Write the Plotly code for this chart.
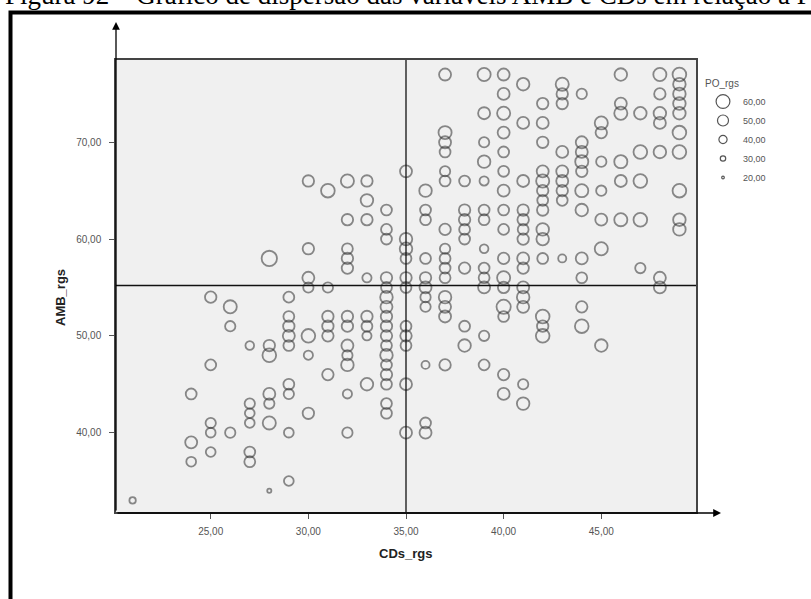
import plotly.graph_objects as go

# ---- data (CDs_rgs column -> AMB_rgs values, PO_rgs values)
cds_cols = [21, 24, 25, 26, 27, 28, 29, 30, 31, 32, 33, 34, 35, 36, 37, 38, 39,
            40, 41, 42, 43, 44, 45, 46, 47, 48, 49]
amb_cols = [
    [33],
    [44, 39, 37],
    [54, 47, 41, 40, 38],
    [53, 51, 40],
    [49, 43, 42, 41, 38, 37],
    [58, 49, 48, 44, 43, 41, 34],
    [54, 52, 51, 50, 49, 45, 44, 40, 35],
    [66, 59, 56, 55, 50, 48, 42],
    [65, 55, 52, 51, 50, 46],
    [66, 62, 59, 58, 57, 52, 51, 49, 48, 47, 44, 40],
    [66, 64, 62, 56, 52, 51, 50, 45],
    [63, 61, 60, 56, 55, 54, 53, 52, 51, 50, 49, 48, 47, 46, 45, 43, 42],
    [67, 60, 59, 58, 56, 55, 51, 50, 49, 45, 40],
    [65, 63, 62, 58, 56, 55, 54, 53, 47, 41, 40],
    [77, 71, 70, 69, 67, 66, 61, 59, 58, 57, 56, 54, 53, 52, 47],
    [66, 63, 62, 61, 60, 57, 51, 49],
    [77, 73, 70, 68, 66, 63, 62, 59, 57, 56, 55, 50, 47],
    [77, 75, 73, 71, 69, 67, 65, 63, 61, 58, 56, 55, 53, 52, 46, 44],
    [76, 72, 66, 63, 62, 61, 60, 58, 57, 55, 54, 53, 45, 43],
    [74, 72, 70, 67, 66, 65, 64, 63, 61, 60, 58, 52, 51, 50],
    [76, 75, 74, 69, 67, 66, 65, 64, 58],
    [75, 70, 69, 68, 67, 65, 63, 58, 56, 53, 51],
    [72, 71, 68, 65, 62, 59, 49],
    [77, 74, 73, 68, 66, 62],
    [73, 69, 66, 62, 57],
    [77, 75, 73, 72, 69, 56, 55],
    [77, 76, 75, 74, 73, 71, 69, 65, 62, 61],
]
po_cols = [
    [30],
    [46, 50, 42],
    [48, 46, 44, 42, 42],
    [54, 44, 44],
    [38, 44, 42, 42, 46, 46],
    [62, 48, 56, 50, 44, 54, 22],
    [46, 46, 48, 50, 46, 46, 44, 42, 42],
    [48, 48, 50, 44, 56, 40, 48],
    [56, 44, 48, 48, 48, 48],
    [54, 48, 46, 48, 48, 48, 48, 50, 44, 52, 40, 44],
    [48, 52, 48, 40, 48, 46, 40, 52],
    [46, 46, 46, 48, 46, 52, 50, 48, 48, 48, 46, 52, 46, 48, 46, 46, 46],
    [50, 52, 52, 46, 48, 46, 46, 48, 46, 50, 50],
    [52, 46, 46, 46, 48, 50, 44, 44, 36, 46, 50],
    [50, 54, 50, 46, 44, 46, 48, 44, 46, 46, 46, 52, 50, 50, 48],
    [46, 48, 48, 46, 46, 48, 46, 52],
    [54, 50, 44, 52, 40, 46, 46, 38, 46, 46, 50, 44, 46],
    [50, 50, 54, 50, 46, 46, 50, 46, 46, 48, 54, 48, 58, 46, 48, 50],
    [52, 50, 50, 48, 48, 46, 48, 50, 48, 50, 52, 50, 44, 52],
    [48, 50, 48, 50, 54, 48, 46, 48, 52, 52, 46, 56, 48, 56],
    [54, 48, 48, 50, 50, 50, 48, 46, 36],
    [44, 50, 50, 54, 48, 54, 52, 50, 46, 48, 56],
    [54, 48, 44, 44, 50, 54, 52],
    [52, 50, 54, 54, 50, 54],
    [52, 56, 56, 56, 44],
    [54, 48, 52, 50, 52, 50, 50],
    [56, 52, 52, 52, 52, 56, 56, 56, 52, 52],
]
legend_values = [60, 50, 40, 30, 20]
x_ticks = [25, 30, 35, 40, 45]
y_ticks = [40, 50, 60, 70]
x_ref = 35
y_ref = 55.2

title_text = "Figura 92 – Gráfico de dispersão das variáveis AMB e CDs em relação à PO"

cds_rgs, amb_rgs, po_rgs = [], [], []
for cx, ys, ps in zip(cds_cols, amb_cols, po_cols):
    for yv, pv in zip(ys, ps):
        cds_rgs.append(cx)
        amb_rgs.append(yv)
        po_rgs.append(pv)


def diam(p):
    return max(3.0, 0.28 * p - 2)


mcolor = "rgba(45,45,45,0.78)"

fig = go.Figure()
fig.add_trace(go.Scatter(
    x=cds_rgs, y=amb_rgs, mode="markers", showlegend=False,
    marker=dict(symbol="circle-open", size=[diam(p) for p in po_rgs],
                color=mcolor, line=dict(width=1.8)),
    cliponaxis=False,
))
for v in legend_values:
    fig.add_trace(go.Scatter(
        x=[None], y=[None], mode="markers", name=f"{v},00",
        marker=dict(symbol="circle-open", size=diam(v) - 1, color="#555",
                    line=dict(width=1.2)),
    ))

L, R, T, B = 116, 115, 60, 87
W, H = 811, 599
pw, ph = W - L - R, H - T - B


def px_x(px):
    return (px - L) / pw


def px_y(py):
    return (H - B - py) / ph


shapes = [
    # reference lines
    dict(type="line", xref="paper", yref="y", x0=0, x1=1, y0=y_ref, y1=y_ref,
         line=dict(color="#111", width=1.3)),
    dict(type="line", xref="x", yref="paper", x0=x_ref, x1=x_ref, y0=0, y1=1,
         line=dict(color="#111", width=1.3)),
    # outer frame
    dict(type="rect", xref="paper", yref="paper",
         x0=px_x(10.5), x1=px_x(830), y0=px_y(12.5), y1=px_y(620),
         line=dict(color="black", width=4), layer="below"),
]

annotations = [
    dict(text=title_text, xref="paper", yref="paper", x=px_x(3), y=px_y(-5),
         xanchor="left", yanchor="middle", showarrow=False,
         font=dict(family="Liberation Serif", size=27, color="black")),
    # y-axis arrow
    dict(text="", xref="paper", yref="paper", x=px_x(116), y=px_y(22),
         ax=0, ay=490, axref="pixel", ayref="pixel", showarrow=True,
         arrowhead=2, arrowsize=1.2, arrowwidth=1.3, arrowcolor="black"),
    # x-axis arrow
    dict(text="", xref="paper", yref="paper", x=px_x(721), y=px_y(513),
         ax=-605, ay=0, showarrow=True,
         arrowhead=2, arrowsize=1.2, arrowwidth=1.3, arrowcolor="black"),
    dict(text="<b>AMB_rgs</b>", xref="paper", yref="paper", x=px_x(60), y=px_y(298),
         textangle=-90, showarrow=False, xanchor="center", yanchor="middle",
         font=dict(family="Liberation Sans", size=13, color="#222")),
    dict(text="<b>CDs_rgs</b>", xref="paper", yref="paper", x=px_x(405), y=px_y(553),
         showarrow=False, xanchor="center", yanchor="middle",
         font=dict(family="Liberation Sans", size=13, color="#222")),
]

fig.update_layout(
    width=W, height=H, margin=dict(l=L, r=R, t=T, b=B),
    paper_bgcolor="white", plot_bgcolor="#f0f0f0",
    separators=",.",
    shapes=shapes, annotations=annotations,
    showlegend=True,
    legend=dict(x=px_x(703), y=px_y(74), xanchor="left", yanchor="top",
                title=dict(text="PO_rgs", font=dict(size=10, color="#555",
                                                    family="Liberation Sans")),
                font=dict(size=9, color="#555", family="Liberation Sans"),
                bgcolor="rgba(0,0,0,0)", itemsizing="trace", tracegroupgap=0,
                itemwidth=30),
    xaxis=dict(range=[20.15, 49.85], tickvals=x_ticks, tickformat=".2f",
               ticks="outside", ticklen=5, tickcolor="#555",
               tickfont=dict(size=10, color="#555", family="Liberation Sans"),
               showgrid=False, zeroline=False, showline=True, mirror=True,
               linecolor="#444", linewidth=1.5, ticklabelstandoff=4),
    yaxis=dict(range=[31.8, 78.5], tickvals=y_ticks, tickformat=".2f",
               ticks="outside", ticklen=5, tickcolor="#555",
               tickfont=dict(size=10, color="#555", family="Liberation Sans"),
               showgrid=False, zeroline=False, showline=True, mirror=True,
               linecolor="#444", linewidth=1.5, ticklabelstandoff=6),
)

fig.write_html("out.html")
